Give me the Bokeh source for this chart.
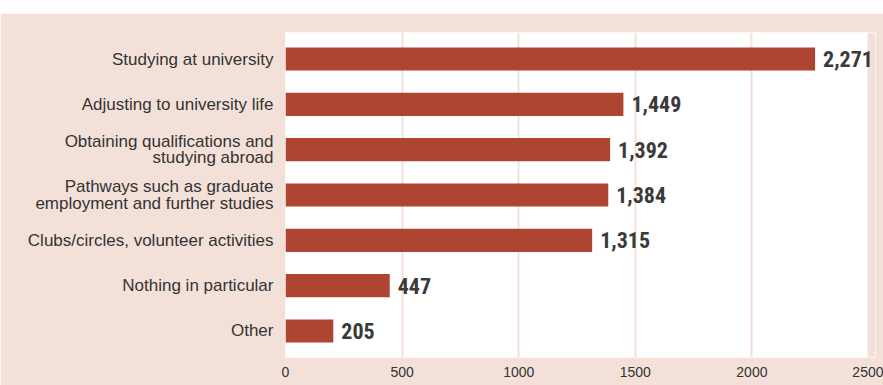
from bokeh.plotting import figure
from bokeh.models import FactorRange, ColumnDataSource, LabelSet, Spacer, FixedTicker, BoxAnnotation
from bokeh.layouts import column
from bokeh.core.properties import value
from bokeh.embed import file_html
from bokeh.resources import INLINE

categories = [
    "Studying at university",
    "Adjusting to university life",
    "Obtaining qualifications and\nstudying abroad",
    "Pathways such as graduate\nemployment and further studies",
    "Clubs/circles, volunteer activities",
    "Nothing in particular",
    "Other",
]
counts = [2271, 1449, 1392, 1384, 1315, 447, 205]
x_ticks = [0, 500, 1000, 1500, 2000, 2500]

BG = "#f3e1d9"
BAR = "#ad4532"

source = ColumnDataSource(dict(
    cat=categories,
    count=counts,
    count_text=[f"{v:,}" for v in counts],
))

AXIS_END = 2500
X_EXTRA = 2530  # room beyond the axis end so value labels are not clipped

p = figure(
    width=883, height=372,
    y_range=FactorRange(factors=categories[::-1], range_padding=0.085, range_padding_units="absolute"),
    x_range=(0, X_EXTRA),
    output_backend="svg", toolbar_location=None,
    min_border_left=285, min_border_right=8, min_border_top=19, min_border_bottom=28,
)
p.background_fill_color = "white"
p.border_fill_color = BG
p.outline_line_color = None

p.hbar(y="cat", right="count", left=0, height=0.51, source=source,
       fill_color=BAR, line_color=None)

p.add_layout(BoxAnnotation(left=AXIS_END, fill_color=BG, fill_alpha=1.0, line_color=None))

vals = LabelSet(x="count", y="cat", text="count_text", source=source,
                x_offset=8, text_align="left", text_baseline="middle",
                text_font=value("'Roboto Condensed', 'DejaVu Sans Condensed', 'Liberation Sans Narrow', Roboto, sans-serif"),
                text_font_style="bold",
                text_font_size="22px", text_color="#3a3a3a")
p.add_layout(vals)

p.yaxis.axis_line_color = None
p.yaxis.major_tick_line_color = None
p.yaxis.minor_tick_line_color = None
p.yaxis.major_label_standoff = 6
p.yaxis.major_label_text_font = "Liberation Sans"
p.yaxis.major_label_text_font_size = "17px"
p.yaxis.major_label_text_line_height = 0.85
p.yaxis.major_label_text_color = "#333333"

p.ygrid.grid_line_color = None
p.xgrid.grid_line_color = BG
p.xgrid.grid_line_width = 2
p.xgrid.ticker = FixedTicker(ticks=x_ticks)
p.xaxis.ticker = FixedTicker(ticks=x_ticks)
p.xaxis.axis_line_color = None
p.xaxis.major_tick_line_color = None
p.xaxis.minor_tick_line_color = None
p.xaxis.major_label_standoff = 3
p.xaxis.major_label_text_font = "Liberation Sans"
p.xaxis.major_label_text_font_size = "14px"
p.xaxis.major_label_text_color = "#333333"

layout = column(Spacer(height=13, width=883), p, spacing=0)

open("out.html", "w").write(file_html(layout, INLINE))
